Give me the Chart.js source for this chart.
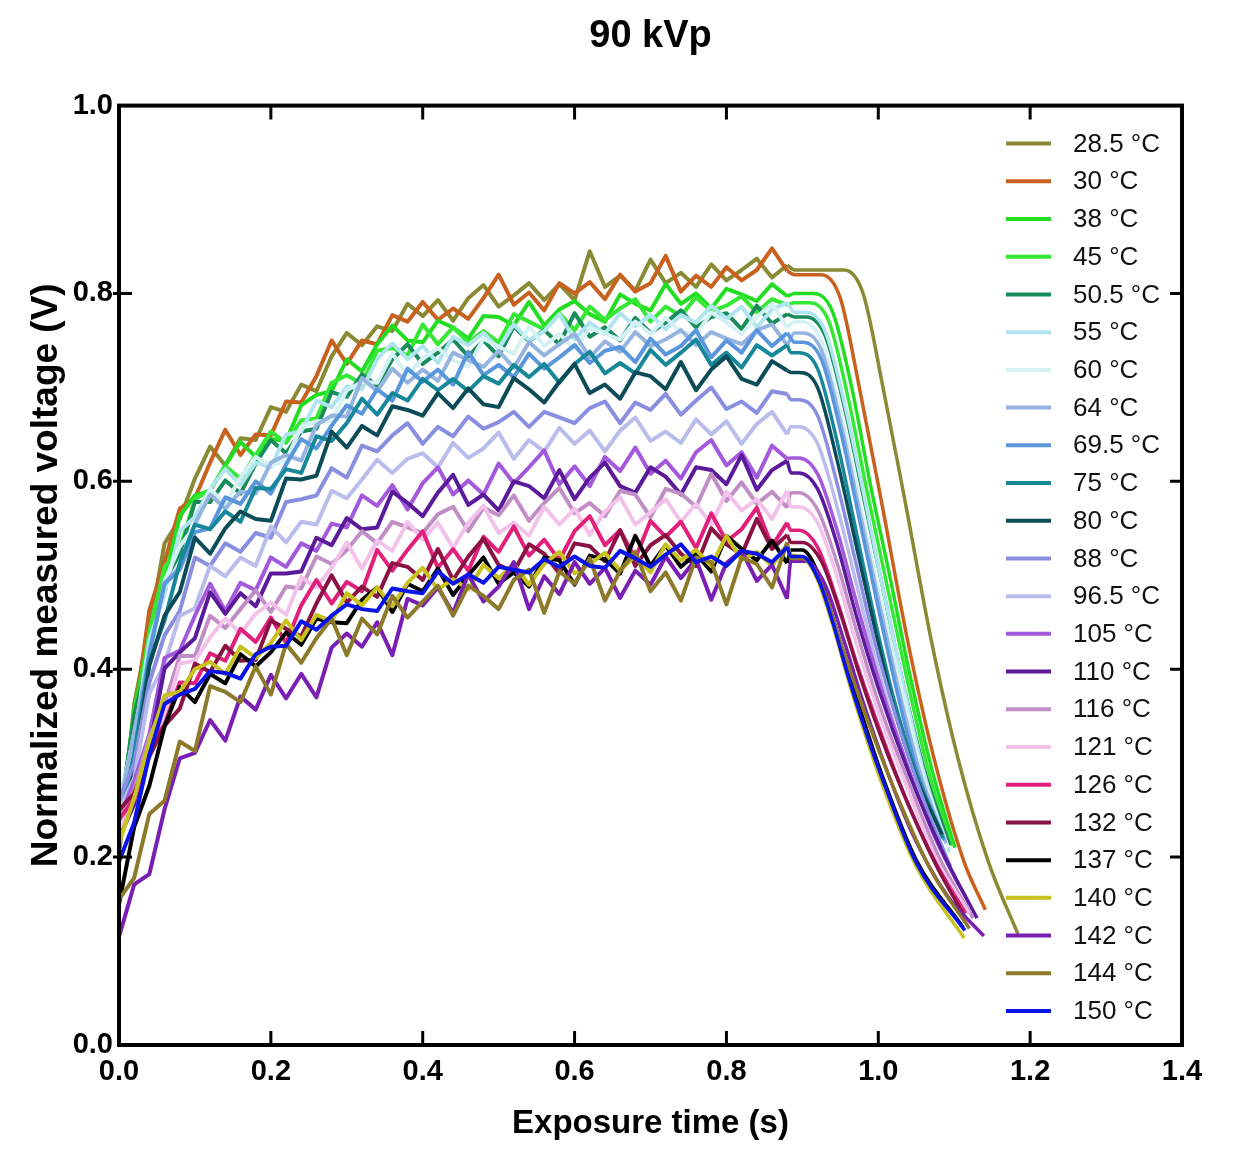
<!DOCTYPE html>
<html>
<head>
<meta charset="utf-8">
<title>90 kVp</title>
<script src="https://cdn.jsdelivr.net/npm/chart.js@4.4.0/dist/chart.umd.min.js"></script>
<style>
  html, body { margin: 0; padding: 0; background: #fff; }
  #wrap { width: 1233px; height: 1149px; }
</style>
</head>
<body>
<div id="wrap"><canvas id="chart" width="1233" height="1149"></canvas></div>
<script>
// sample times of the noisy part (s)
var timeGrid = [0, 0.02, 0.04, 0.06, 0.08, 0.10, 0.12, 0.14, 0.16, 0.18, 0.20, 0.22, 0.24, 0.26, 0.28, 0.30,
  0.32, 0.34, 0.36, 0.38, 0.40, 0.42, 0.44, 0.46, 0.48, 0.50, 0.52, 0.54, 0.56, 0.58, 0.60, 0.62, 0.64, 0.66,
  0.68, 0.70, 0.72, 0.74, 0.76, 0.78, 0.80, 0.82, 0.84, 0.86, 0.88];

var tempLabels = ['28.5 °C', '30 °C', '38 °C', '45 °C', '50.5 °C', '55 °C', '60 °C', '64 °C', '69.5 °C', '75 °C',
  '80 °C', '88 °C', '96.5 °C', '105 °C', '110 °C', '116 °C', '121 °C', '126 °C', '132 °C', '137 °C', '140 °C',
  '142 °C', '144 °C', '150 °C'];

// normalized voltage during exposure (one value per timeGrid entry)
var rise285 = [0.200, 0.363, 0.444, 0.534, 0.560, 0.603, 0.637, 0.617, 0.646, 0.644, 0.679, 0.674, 0.703, 0.696, 0.733, 0.758, 0.745, 0.765, 0.760, 0.789, 0.776, 0.793, 0.771, 0.795, 0.809, 0.786, 0.798, 0.811, 0.793, 0.810, 0.793, 0.845, 0.807, 0.819, 0.803, 0.836, 0.811, 0.822, 0.807, 0.831, 0.814, 0.825, 0.837, 0.817, 0.830];
var rise30 = [0.210, 0.347, 0.463, 0.514, 0.571, 0.582, 0.620, 0.655, 0.628, 0.650, 0.649, 0.685, 0.684, 0.712, 0.750, 0.725, 0.750, 0.746, 0.777, 0.770, 0.791, 0.772, 0.784, 0.773, 0.795, 0.820, 0.788, 0.801, 0.782, 0.811, 0.800, 0.812, 0.794, 0.820, 0.802, 0.811, 0.840, 0.802, 0.819, 0.807, 0.828, 0.814, 0.825, 0.848, 0.824];
var rise38 = [0.230, 0.356, 0.436, 0.495, 0.563, 0.585, 0.590, 0.617, 0.642, 0.626, 0.645, 0.643, 0.681, 0.692, 0.696, 0.730, 0.717, 0.746, 0.766, 0.750, 0.748, 0.771, 0.764, 0.752, 0.776, 0.775, 0.766, 0.791, 0.766, 0.783, 0.792, 0.778, 0.770, 0.799, 0.789, 0.782, 0.810, 0.789, 0.800, 0.784, 0.805, 0.799, 0.792, 0.810, 0.797];
var rise45 = [0.220, 0.331, 0.440, 0.509, 0.528, 0.581, 0.591, 0.616, 0.603, 0.628, 0.653, 0.641, 0.665, 0.667, 0.705, 0.713, 0.704, 0.739, 0.742, 0.734, 0.767, 0.746, 0.764, 0.748, 0.760, 0.748, 0.778, 0.770, 0.762, 0.779, 0.761, 0.786, 0.772, 0.784, 0.794, 0.770, 0.786, 0.776, 0.796, 0.781, 0.787, 0.797, 0.780, 0.794, 0.788];
var rise505 = [0.240, 0.351, 0.414, 0.494, 0.523, 0.578, 0.578, 0.601, 0.587, 0.619, 0.644, 0.630, 0.653, 0.656, 0.695, 0.690, 0.714, 0.702, 0.730, 0.746, 0.725, 0.737, 0.751, 0.733, 0.750, 0.733, 0.765, 0.749, 0.761, 0.746, 0.779, 0.754, 0.764, 0.750, 0.774, 0.758, 0.769, 0.782, 0.764, 0.775, 0.779, 0.762, 0.787, 0.768, 0.778];
var rise55 = [0.260, 0.327, 0.431, 0.480, 0.547, 0.562, 0.592, 0.613, 0.596, 0.620, 0.615, 0.650, 0.653, 0.686, 0.679, 0.701, 0.698, 0.730, 0.747, 0.730, 0.744, 0.726, 0.754, 0.745, 0.758, 0.741, 0.767, 0.750, 0.760, 0.778, 0.751, 0.769, 0.757, 0.779, 0.765, 0.777, 0.762, 0.777, 0.769, 0.787, 0.773, 0.786, 0.764, 0.783, 0.790];
var rise60 = [0.250, 0.332, 0.411, 0.494, 0.531, 0.552, 0.592, 0.576, 0.604, 0.626, 0.617, 0.622, 0.658, 0.664, 0.664, 0.697, 0.706, 0.705, 0.736, 0.713, 0.731, 0.742, 0.729, 0.722, 0.752, 0.743, 0.736, 0.765, 0.744, 0.757, 0.741, 0.763, 0.757, 0.751, 0.770, 0.757, 0.774, 0.759, 0.756, 0.780, 0.769, 0.757, 0.775, 0.789, 0.764];
var rise64 = [0.250, 0.333, 0.415, 0.492, 0.509, 0.555, 0.586, 0.571, 0.589, 0.587, 0.620, 0.628, 0.622, 0.660, 0.670, 0.669, 0.710, 0.696, 0.720, 0.705, 0.719, 0.707, 0.737, 0.729, 0.722, 0.739, 0.721, 0.748, 0.734, 0.746, 0.757, 0.732, 0.749, 0.738, 0.759, 0.744, 0.751, 0.761, 0.745, 0.759, 0.752, 0.746, 0.761, 0.767, 0.745];
var rise695 = [0.240, 0.308, 0.418, 0.491, 0.506, 0.546, 0.550, 0.583, 0.576, 0.600, 0.587, 0.618, 0.645, 0.635, 0.659, 0.681, 0.672, 0.698, 0.686, 0.720, 0.706, 0.719, 0.703, 0.738, 0.713, 0.724, 0.711, 0.736, 0.720, 0.732, 0.745, 0.726, 0.739, 0.743, 0.727, 0.752, 0.735, 0.744, 0.761, 0.732, 0.750, 0.737, 0.761, 0.744, 0.758];
var rise75 = [0.230, 0.310, 0.408, 0.452, 0.513, 0.554, 0.549, 0.568, 0.557, 0.593, 0.592, 0.613, 0.609, 0.648, 0.643, 0.662, 0.688, 0.671, 0.694, 0.686, 0.709, 0.697, 0.709, 0.696, 0.712, 0.704, 0.724, 0.711, 0.725, 0.705, 0.725, 0.738, 0.715, 0.726, 0.715, 0.740, 0.724, 0.737, 0.751, 0.724, 0.737, 0.721, 0.745, 0.734, 0.745];
var rise80 = [0.220, 0.291, 0.404, 0.457, 0.482, 0.540, 0.523, 0.550, 0.568, 0.560, 0.558, 0.603, 0.602, 0.606, 0.653, 0.636, 0.659, 0.649, 0.680, 0.676, 0.670, 0.694, 0.678, 0.699, 0.682, 0.679, 0.710, 0.698, 0.684, 0.706, 0.725, 0.694, 0.703, 0.688, 0.716, 0.712, 0.698, 0.727, 0.697, 0.719, 0.733, 0.709, 0.703, 0.728, 0.718];
var rise88 = [0.260, 0.300, 0.386, 0.436, 0.462, 0.519, 0.510, 0.534, 0.525, 0.545, 0.540, 0.578, 0.581, 0.585, 0.614, 0.604, 0.638, 0.632, 0.649, 0.662, 0.640, 0.658, 0.648, 0.669, 0.656, 0.663, 0.674, 0.658, 0.674, 0.668, 0.662, 0.678, 0.685, 0.662, 0.684, 0.676, 0.693, 0.671, 0.686, 0.700, 0.677, 0.685, 0.673, 0.696, 0.693];
var rise965 = [0.250, 0.284, 0.374, 0.406, 0.457, 0.465, 0.510, 0.499, 0.519, 0.510, 0.552, 0.535, 0.557, 0.554, 0.590, 0.582, 0.602, 0.623, 0.609, 0.624, 0.630, 0.615, 0.641, 0.625, 0.635, 0.652, 0.624, 0.644, 0.632, 0.657, 0.640, 0.654, 0.632, 0.654, 0.668, 0.643, 0.653, 0.641, 0.666, 0.650, 0.664, 0.640, 0.661, 0.674, 0.650];
var rise105 = [0.240, 0.281, 0.331, 0.412, 0.420, 0.457, 0.491, 0.462, 0.492, 0.484, 0.519, 0.509, 0.534, 0.526, 0.555, 0.551, 0.585, 0.574, 0.596, 0.570, 0.598, 0.615, 0.586, 0.601, 0.586, 0.619, 0.598, 0.615, 0.633, 0.597, 0.616, 0.595, 0.626, 0.611, 0.636, 0.608, 0.622, 0.603, 0.631, 0.644, 0.617, 0.631, 0.604, 0.638, 0.624];
var rise110 = [0.220, 0.256, 0.316, 0.401, 0.418, 0.433, 0.482, 0.459, 0.481, 0.467, 0.502, 0.502, 0.504, 0.540, 0.532, 0.561, 0.549, 0.551, 0.589, 0.577, 0.563, 0.588, 0.607, 0.575, 0.586, 0.569, 0.600, 0.595, 0.582, 0.612, 0.581, 0.604, 0.620, 0.595, 0.588, 0.615, 0.605, 0.586, 0.615, 0.612, 0.597, 0.628, 0.591, 0.612, 0.622];
var rise116 = [0.240, 0.271, 0.328, 0.363, 0.414, 0.414, 0.457, 0.444, 0.464, 0.484, 0.461, 0.488, 0.486, 0.520, 0.512, 0.527, 0.547, 0.534, 0.557, 0.551, 0.545, 0.565, 0.573, 0.547, 0.572, 0.564, 0.585, 0.558, 0.577, 0.593, 0.566, 0.577, 0.563, 0.590, 0.586, 0.562, 0.592, 0.587, 0.573, 0.608, 0.579, 0.599, 0.576, 0.589, 0.572];
var rise121 = [0.230, 0.262, 0.320, 0.347, 0.406, 0.409, 0.434, 0.454, 0.438, 0.459, 0.471, 0.458, 0.498, 0.487, 0.508, 0.535, 0.507, 0.537, 0.526, 0.557, 0.538, 0.556, 0.529, 0.556, 0.574, 0.545, 0.556, 0.542, 0.573, 0.554, 0.571, 0.543, 0.568, 0.583, 0.554, 0.567, 0.581, 0.557, 0.576, 0.554, 0.589, 0.569, 0.581, 0.560, 0.590];
var rise126 = [0.240, 0.262, 0.319, 0.341, 0.386, 0.385, 0.417, 0.409, 0.443, 0.429, 0.455, 0.428, 0.468, 0.495, 0.470, 0.493, 0.483, 0.527, 0.505, 0.527, 0.547, 0.508, 0.528, 0.505, 0.541, 0.525, 0.552, 0.521, 0.538, 0.516, 0.547, 0.563, 0.532, 0.548, 0.518, 0.558, 0.541, 0.557, 0.529, 0.566, 0.536, 0.549, 0.572, 0.531, 0.556];
var rise132 = [0.250, 0.268, 0.307, 0.340, 0.358, 0.406, 0.397, 0.425, 0.409, 0.410, 0.452, 0.443, 0.435, 0.470, 0.500, 0.471, 0.488, 0.477, 0.513, 0.509, 0.495, 0.528, 0.495, 0.520, 0.539, 0.511, 0.504, 0.533, 0.523, 0.502, 0.534, 0.531, 0.515, 0.548, 0.510, 0.532, 0.543, 0.523, 0.510, 0.550, 0.533, 0.522, 0.560, 0.528, 0.543];
var rise137 = [0.150, 0.232, 0.276, 0.339, 0.381, 0.365, 0.395, 0.385, 0.416, 0.403, 0.418, 0.439, 0.426, 0.454, 0.450, 0.449, 0.474, 0.487, 0.461, 0.491, 0.483, 0.507, 0.479, 0.500, 0.519, 0.491, 0.503, 0.488, 0.519, 0.516, 0.490, 0.521, 0.517, 0.502, 0.542, 0.510, 0.532, 0.509, 0.523, 0.504, 0.542, 0.528, 0.516, 0.537, 0.513];
var rise140 = [0.215, 0.263, 0.323, 0.372, 0.376, 0.400, 0.408, 0.395, 0.424, 0.412, 0.428, 0.452, 0.431, 0.458, 0.451, 0.481, 0.468, 0.487, 0.467, 0.492, 0.508, 0.485, 0.496, 0.485, 0.511, 0.497, 0.512, 0.490, 0.512, 0.525, 0.502, 0.512, 0.524, 0.505, 0.521, 0.503, 0.533, 0.516, 0.527, 0.510, 0.542, 0.516, 0.525, 0.510, 0.533];
var rise142 = [0.115, 0.171, 0.182, 0.251, 0.305, 0.311, 0.346, 0.324, 0.371, 0.357, 0.394, 0.369, 0.395, 0.370, 0.423, 0.438, 0.424, 0.450, 0.415, 0.475, 0.468, 0.487, 0.460, 0.501, 0.472, 0.488, 0.514, 0.464, 0.499, 0.480, 0.514, 0.491, 0.508, 0.476, 0.505, 0.490, 0.520, 0.497, 0.517, 0.474, 0.513, 0.526, 0.494, 0.511, 0.475];
var rise144 = [0.155, 0.178, 0.246, 0.260, 0.323, 0.313, 0.382, 0.376, 0.365, 0.403, 0.373, 0.427, 0.407, 0.433, 0.454, 0.415, 0.454, 0.437, 0.478, 0.455, 0.472, 0.489, 0.457, 0.489, 0.478, 0.464, 0.495, 0.506, 0.460, 0.504, 0.491, 0.518, 0.473, 0.505, 0.525, 0.483, 0.503, 0.473, 0.519, 0.514, 0.469, 0.519, 0.512, 0.487, 0.535];
var rise150 = [0.195, 0.237, 0.309, 0.363, 0.373, 0.379, 0.398, 0.396, 0.390, 0.416, 0.424, 0.425, 0.451, 0.442, 0.457, 0.469, 0.464, 0.462, 0.486, 0.483, 0.481, 0.504, 0.491, 0.501, 0.492, 0.509, 0.506, 0.503, 0.517, 0.509, 0.520, 0.510, 0.508, 0.526, 0.518, 0.509, 0.522, 0.533, 0.514, 0.520, 0.510, 0.526, 0.523, 0.514, 0.530];

// after the exposure: times (s) and voltages of the decay
var fallT285 = [0.89, 0.955, 0.98, 1.005, 1.035, 1.07, 1.105, 1.145, 1.184];
var fallV285 = [0.825, 0.825, 0.80, 0.705, 0.58, 0.43, 0.305, 0.195, 0.118];
var fallT30 = [0.89, 0.925, 0.95, 0.975, 1.005, 1.04, 1.075, 1.113, 1.141];
var fallV30 = [0.82, 0.82, 0.795, 0.70, 0.575, 0.425, 0.30, 0.195, 0.144];
var fallT38 = [0.89, 0.915, 0.94, 0.965, 0.99, 1.015, 1.04, 1.07, 1.101];
var fallV38 = [0.80, 0.80, 0.78, 0.70, 0.595, 0.50, 0.40, 0.295, 0.21];
var fallT45 = [0.89, 0.91, 0.935, 0.96, 0.985, 1.01, 1.035, 1.065, 1.097];
var fallV45 = [0.79, 0.79, 0.77, 0.69, 0.59, 0.495, 0.40, 0.295, 0.212];
var fallT505 = [0.89, 0.905, 0.93, 0.955, 0.98, 1.005, 1.03, 1.06, 1.094];
var fallV505 = [0.775, 0.775, 0.755, 0.68, 0.585, 0.49, 0.395, 0.295, 0.213];
var fallT55 = [0.89, 0.905, 0.93, 0.955, 0.98, 1.005, 1.03, 1.06, 1.094];
var fallV55 = [0.78, 0.78, 0.76, 0.685, 0.59, 0.49, 0.395, 0.29, 0.205];
var fallT60 = [0.89, 0.90, 0.925, 0.95, 0.975, 1.0, 1.028, 1.058, 1.092];
var fallV60 = [0.77, 0.77, 0.75, 0.675, 0.58, 0.485, 0.39, 0.29, 0.21];
var fallT64 = [0.89, 0.90, 0.925, 0.95, 0.975, 1.0, 1.025, 1.055, 1.089];
var fallV64 = [0.758, 0.758, 0.74, 0.665, 0.57, 0.475, 0.385, 0.29, 0.215];
var fallT695 = [0.89, 0.90, 0.925, 0.95, 0.975, 1.0, 1.025, 1.052, 1.087];
var fallV695 = [0.748, 0.748, 0.73, 0.655, 0.56, 0.465, 0.375, 0.29, 0.218];
var fallT75 = [0.885, 0.895, 0.92, 0.945, 0.97, 0.995, 1.02, 1.05, 1.085];
var fallV75 = [0.737, 0.737, 0.72, 0.645, 0.55, 0.455, 0.37, 0.29, 0.22];
var fallT80 = [0.885, 0.895, 0.92, 0.945, 0.97, 0.995, 1.02, 1.05, 1.084];
var fallV80 = [0.716, 0.716, 0.70, 0.625, 0.535, 0.445, 0.36, 0.285, 0.224];
var fallT88 = [0.885, 0.895, 0.92, 0.945, 0.97, 0.995, 1.025, 1.06, 1.095];
var fallV88 = [0.687, 0.687, 0.67, 0.60, 0.515, 0.43, 0.345, 0.26, 0.19];
var fallT965 = [0.885, 0.895, 0.92, 0.945, 0.97, 0.995, 1.025, 1.065, 1.105];
var fallV965 = [0.658, 0.658, 0.64, 0.575, 0.495, 0.415, 0.33, 0.24, 0.17];
var fallT105 = [0.885, 0.895, 0.92, 0.945, 0.97, 1.0, 1.035, 1.075, 1.12];
var fallV105 = [0.625, 0.625, 0.608, 0.55, 0.475, 0.39, 0.305, 0.22, 0.15];
var fallT110 = [0.885, 0.895, 0.92, 0.945, 0.97, 1.0, 1.04, 1.085, 1.13];
var fallV110 = [0.609, 0.609, 0.592, 0.535, 0.46, 0.38, 0.29, 0.205, 0.135];
var fallT116 = [0.885, 0.895, 0.92, 0.945, 0.97, 1.0, 1.04, 1.08, 1.125];
var fallV116 = [0.588, 0.588, 0.57, 0.515, 0.445, 0.365, 0.28, 0.20, 0.135];
var fallT121 = [0.885, 0.895, 0.92, 0.945, 0.97, 1.0, 1.035, 1.075, 1.12];
var fallV121 = [0.573, 0.573, 0.556, 0.50, 0.43, 0.355, 0.28, 0.20, 0.14];
var fallT126 = [0.885, 0.895, 0.92, 0.945, 0.97, 1.0, 1.035, 1.075, 1.115];
var fallV126 = [0.548, 0.548, 0.53, 0.475, 0.41, 0.34, 0.265, 0.195, 0.14];
var fallT132 = [0.885, 0.90, 0.925, 0.95, 0.975, 1.005, 1.04, 1.077, 1.115];
var fallV132 = [0.535, 0.535, 0.515, 0.46, 0.395, 0.325, 0.255, 0.19, 0.135];
var fallT137 = [0.885, 0.90, 0.922, 0.94, 0.962, 0.985, 1.006, 1.05, 1.112];
var fallV137 = [0.527, 0.527, 0.50, 0.455, 0.393, 0.335, 0.285, 0.197, 0.125];
var fallT140 = [0.885, 0.90, 0.92, 0.94, 0.96, 0.983, 1.004, 1.05, 1.113];
var fallV140 = [0.522, 0.52, 0.495, 0.447, 0.39, 0.33, 0.28, 0.19, 0.114];
var fallT142 = [0.885, 0.905, 0.93, 0.955, 0.98, 1.01, 1.045, 1.09, 1.139];
var fallV142 = [0.515, 0.515, 0.49, 0.43, 0.365, 0.295, 0.225, 0.16, 0.116];
var fallT144 = [0.885, 0.90, 0.925, 0.95, 0.975, 1.0, 1.03, 1.07, 1.12];
var fallV144 = [0.518, 0.518, 0.49, 0.43, 0.37, 0.315, 0.255, 0.185, 0.124];
var fallT150 = [0.885, 0.90, 0.922, 0.94, 0.962, 0.985, 1.006, 1.05, 1.114];
var fallV150 = [0.52, 0.52, 0.494, 0.45, 0.388, 0.33, 0.282, 0.194, 0.122];

var lineColors = ['#8a8a35', '#c8601e', '#22dd22', '#35e835', '#1a8c5c', '#b0e4ee', '#d4f2f4', '#96b4e0',
  '#5a96dc', '#17889a', '#0c4c58', '#8a8ee0', '#babcec', '#a458dc', '#5a1a9a', '#c08ec4', '#f2c2ea',
  '#e0207a', '#8a1244', '#000000', '#c8c21e', '#7a1eb4', '#8c7a2a', '#0a14e6'];

var riseList = [rise285, rise30, rise38, rise45, rise505, rise55, rise60, rise64, rise695, rise75, rise80, rise88,
  rise965, rise105, rise110, rise116, rise121, rise126, rise132, rise137, rise140, rise142, rise144, rise150];
var fallTList = [fallT285, fallT30, fallT38, fallT45, fallT505, fallT55, fallT60, fallT64, fallT695, fallT75,
  fallT80, fallT88, fallT965, fallT105, fallT110, fallT116, fallT121, fallT126, fallT132, fallT137, fallT140,
  fallT142, fallT144, fallT150];
var fallVList = [fallV285, fallV30, fallV38, fallV45, fallV505, fallV55, fallV60, fallV64, fallV695, fallV75,
  fallV80, fallV88, fallV965, fallV105, fallV110, fallV116, fallV121, fallV126, fallV132, fallV137, fallV140,
  fallV142, fallV144, fallV150];

var fontFamily = '"Liberation Sans", Arial, Helvetica, sans-serif';
Chart.defaults.font.family = fontFamily;
Chart.defaults.color = '#000';

var datasets = [];
var n = tempLabels.length;
for (var i = 0; i < n; i++) {
  var rise = riseList[i];
  var noisy = timeGrid.map(function (t, k) { return { x: t, y: rise[k] }; });
  var fT = fallTList[i], fV = fallVList[i];
  var decay = [{ x: timeGrid[timeGrid.length - 1], y: rise[rise.length - 1] }];
  for (var k = 0; k < fT.length; k++) decay.push({ x: fT[k], y: fV[k] });

  // later temperatures are drawn on top
  datasets.push({
    label: tempLabels[i], data: noisy, borderColor: lineColors[i], borderWidth: 4,
    pointRadius: 0, tension: 0, borderJoinStyle: 'round', order: n - i
  });
  datasets.push({
    label: tempLabels[i] + ' decay', data: decay, borderColor: lineColors[i], borderWidth: 3.5,
    pointRadius: 0, cubicInterpolationMode: 'monotone', borderJoinStyle: 'round', order: n - i
  });
}

// box frame with inward ticks + legend inside the plot
var framePlugin = {
  id: 'framePlugin',
  afterDraw: function (chart) {
    var ctx = chart.ctx, a = chart.chartArea;
    var xs = chart.scales.x, ys = chart.scales.y;
    ctx.save();
    ctx.strokeStyle = '#000';
    ctx.lineWidth = 4;
    ctx.strokeRect(a.left, a.top, a.right - a.left, a.bottom - a.top);

    ctx.lineWidth = 3;
    ctx.beginPath();
    xs.ticks.forEach(function (tk) {
      if (tk.value <= xs.min || tk.value >= xs.max) return;
      var px = xs.getPixelForValue(tk.value);
      ctx.moveTo(px, a.bottom); ctx.lineTo(px, a.bottom - 14);
      ctx.moveTo(px, a.top); ctx.lineTo(px, a.top + 14);
    });
    ys.ticks.forEach(function (tk) {
      if (tk.value <= ys.min || tk.value >= ys.max) return;
      var py = ys.getPixelForValue(tk.value);
      ctx.moveTo(a.left - 6, py); ctx.lineTo(a.left + 13, py);
      ctx.moveTo(a.right, py); ctx.lineTo(a.right - 12, py);
    });
    ctx.stroke();

    // legend
    var y0 = a.top + 38, y1 = a.bottom - 34;
    var step = (y1 - y0) / (n - 1);
    ctx.font = '26px ' + fontFamily;
    ctx.textBaseline = 'middle';
    ctx.textAlign = 'left';
    ctx.lineWidth = 4;
    for (var j = 0; j < n; j++) {
      var ly = y0 + j * step;
      ctx.strokeStyle = lineColors[j];
      ctx.beginPath();
      ctx.moveTo(a.right - 176, ly);
      ctx.lineTo(a.right - 131, ly);
      ctx.stroke();
      ctx.fillStyle = '#111';
      ctx.fillText(tempLabels[j], a.right - 109, ly + 1);
    }
    ctx.restore();
  }
};

new Chart(document.getElementById('chart'), {
  type: 'line',
  data: { datasets: datasets },
  options: {
    responsive: false,
    animation: false,
    devicePixelRatio: 1,
    layout: { padding: { left: 0, right: 51, top: 0, bottom: 0 } },
    plugins: {
      legend: { display: false },
      tooltip: { enabled: false },
      title: {
        display: true, text: '90 kVp', fullSize: false, color: '#000',
        font: { size: 38, weight: 'bold' }, padding: { top: 14, bottom: 46 }
      }
    },
    scales: {
      x: {
        type: 'linear', min: 0, max: 1.4,
        grid: { display: false, drawTicks: false },
        border: { display: false },
        ticks: {
          stepSize: 0.2, padding: 10, color: '#000',
          font: { size: 29, weight: 'bold' },
          maxRotation: 0,
          callback: function (v) { return v.toFixed(1); }
        },
        title: {
          display: true, text: 'Exposure time (s)', color: '#000',
          font: { size: 33, weight: 'bold' }, padding: { top: 0, bottom: 5 }
        },
        afterFit: function (scale) { scale.height = 104; scale.paddingLeft = 0; scale.paddingRight = 0; }
      },
      y: {
        min: 0, max: 1,
        grid: { display: false, drawTicks: false },
        border: { display: false },
        ticks: {
          stepSize: 0.2, padding: 6, color: '#000',
          font: { size: 29, weight: 'bold' },
          callback: function (v) { return v.toFixed(1); }
        },
        title: {
          display: true, text: 'Normalized measured voltage (V)', color: '#000',
          font: { size: 37, weight: 'bold' }, padding: { top: 25, bottom: 0 }
        },
        afterFit: function (scale) { scale.width = 119; scale.paddingTop = 0; scale.paddingBottom = 0; }
      }
    }
  },
  plugins: [framePlugin]
});
</script>
</body>
</html>
